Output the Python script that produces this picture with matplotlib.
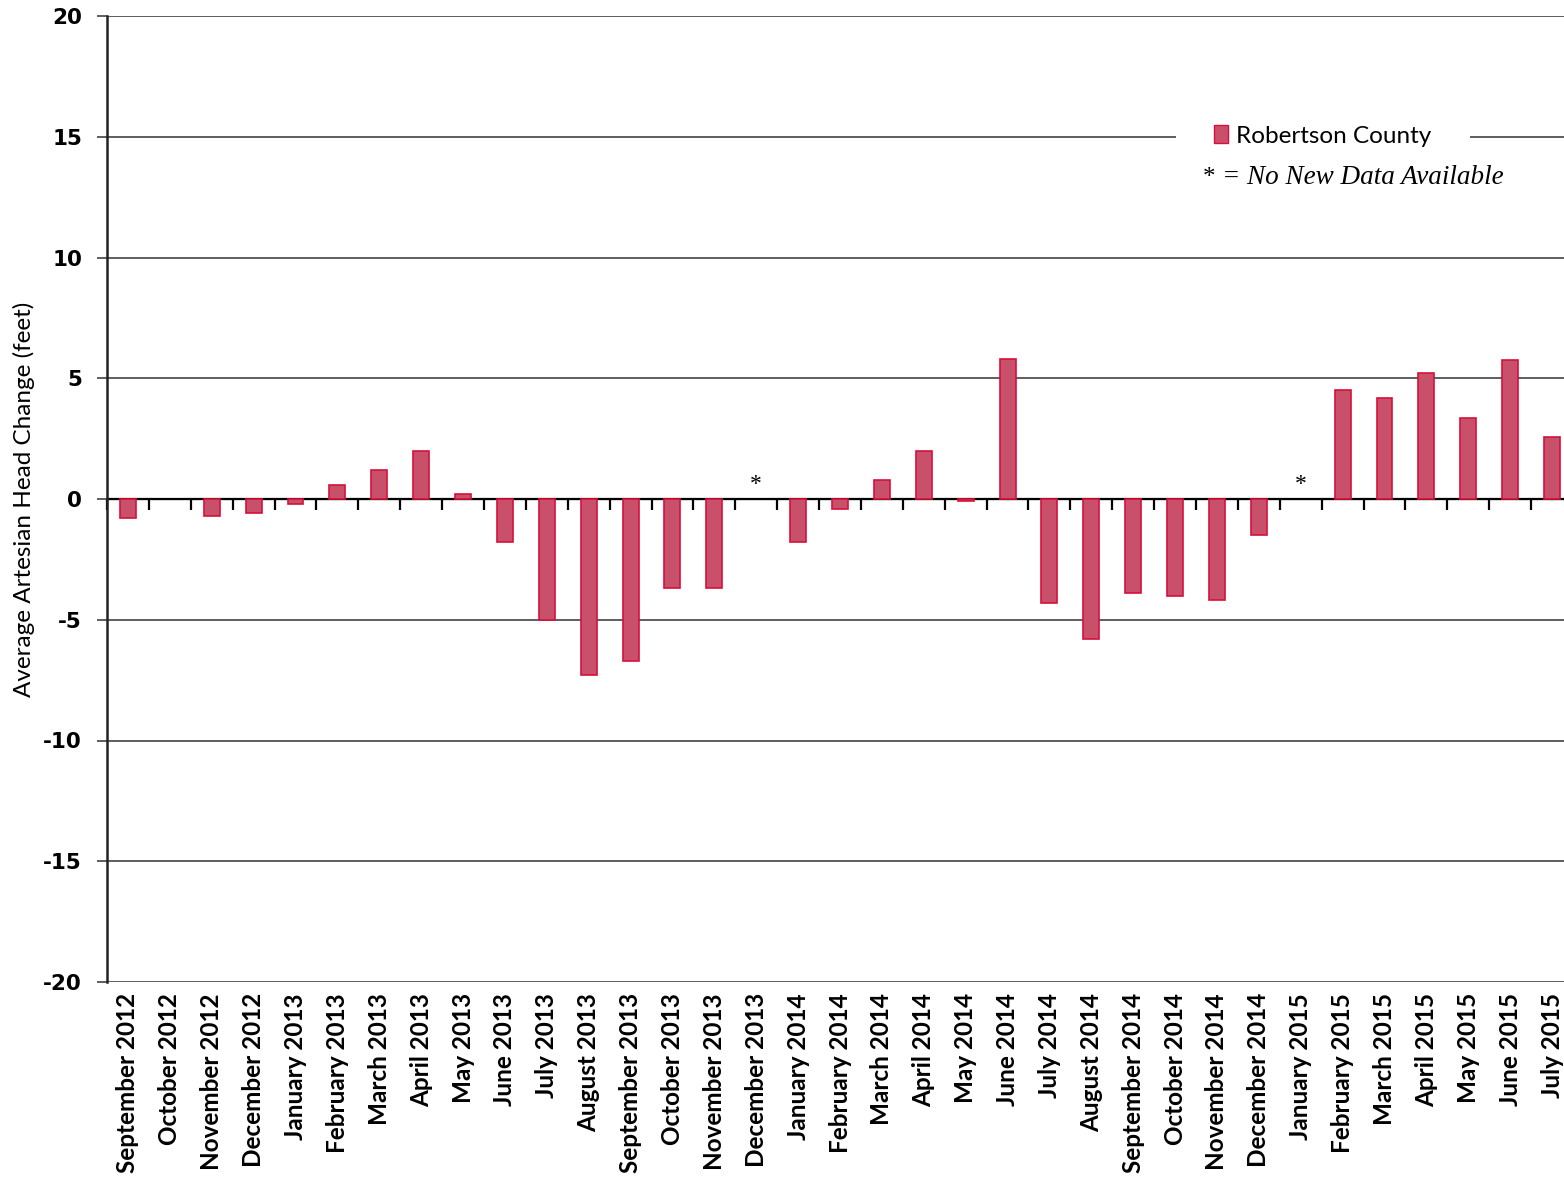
import numpy as np
import matplotlib
matplotlib.use("Agg")
from matplotlib import pyplot as plt
from matplotlib.patches import Patch

# meses e variacao media da carga artesiana (pes)
months = [
    "September 2012", "October 2012", "November 2012", "December 2012",
    "January 2013", "February 2013", "March 2013", "April 2013", "May 2013",
    "June 2013", "July 2013", "August 2013", "September 2013", "October 2013",
    "November 2013", "December 2013", "January 2014", "February 2014",
    "March 2014", "April 2014", "May 2014", "June 2014", "July 2014",
    "August 2014", "September 2014", "October 2014", "November 2014",
    "December 2014", "January 2015", "February 2015", "March 2015",
    "April 2015", "May 2015", "June 2015", "July 2015",
]
head_change = [
    -0.8, 0.0, -0.7, -0.6,
    -0.2, 0.6, 1.2, 2.0, 0.2,
    -1.8, -5.0, -7.3, -6.7, -3.7,
    -3.7, np.nan, -1.8, -0.4,
    0.8, 2.0, -0.1, 5.8, -4.3,
    -5.8, -3.9, -4.0, -4.2,
    -1.5, np.nan, 4.5, 4.2,
    5.2, 3.35, 5.75, 2.55,
]
y_ticks = [-20, -15, -10, -5, 0, 5, 10, 15, 20]

fill_color = "#C8506A"
edge_color = "#D8103A"
grid_color = "#333333"

plt.rcParams["xtick.direction"] = "in"

fig = plt.figure(figsize=(15.64, 11.78), dpi=100)
ax = fig.add_axes([107 / 1564, 196 / 1178, 1466 / 1564, 966 / 1178])

x = np.arange(len(months))
vals = np.array(head_change, dtype=float)
has_bar = ~np.isnan(vals) & (vals != 0)
ax.bar(x[has_bar], vals[has_bar], width=0.38, color=fill_color,
       edgecolor=edge_color, linewidth=1.2, zorder=3)

# asterisco onde nao ha dados novos
for xi, v in zip(x, vals):
    if np.isnan(v):
        ax.text(xi, 0.15, "*", ha="center", va="bottom", fontsize=17,
                family="Liberation Serif", zorder=4)

ax.set_xlim(-0.5, len(months) - 0.5)
ax.set_ylim(-20, 20)
ax.set_yticks(y_ticks)
ax.set_yticklabels([str(t) for t in y_ticks], fontsize=15.5, fontweight="bold",
                   family="DejaVu Sans")
ax.yaxis.grid(True, color=grid_color, linewidth=1.1, zorder=0)
ax.tick_params(axis="y", direction="out", length=7, width=1.1,
               color=grid_color, pad=11)
ax.axhline(0, color="black", linewidth=1.6, zorder=2)

ax.set_xticks(x)
ax.set_xticklabels(months, rotation=90, fontsize=17.5, fontweight="bold",
                   family="Lato", va="top", ha="center")
ax.tick_params(axis="x", length=0, pad=8)

# marcas de divisao sobre a linha do zero
zero_axis = ax.secondary_xaxis(0.5)
zero_axis.set_xticks(np.arange(len(months) + 1) - 0.5)
zero_axis.set_xticklabels([])
zero_axis.tick_params(which="both", direction="in", length=8, width=1.6,
                      color="black")
zero_axis.spines["bottom"].set_visible(False)

for side in ["top", "right", "bottom"]:
    ax.spines[side].set_visible(False)
ax.spines["left"].set_linewidth(1.8)
ax.spines["left"].set_color("#222222")

ax.set_ylabel("Average Artesian Head Change (feet)", fontsize=17.5,
              family="Lato", labelpad=6)

leg = ax.legend(handles=[Patch(facecolor=fill_color, edgecolor=edge_color,
                               label="Robertson County")],
                loc="center", bbox_to_anchor=(0.8295, 0.8758),
                frameon=True, facecolor="white", edgecolor="white",
                framealpha=1.0, handlelength=0.55, handleheight=0.75,
                handletextpad=0.35, borderpad=1.6,
                prop={"family": "Lato", "size": 17.5})
leg.get_frame().set_linewidth(0)
leg.set_zorder(5)

ax.text(0.7606, 0.8325, "* ", transform=ax.transAxes, fontsize=18,
        family="Liberation Serif", ha="right", va="center", zorder=6)
ax.text(0.7606, 0.8325, "= No New Data Available", transform=ax.transAxes,
        fontsize=19.5, family="Liberation Serif", style="italic",
        ha="left", va="center", zorder=6)

fig.savefig("out.png", dpi=100)
